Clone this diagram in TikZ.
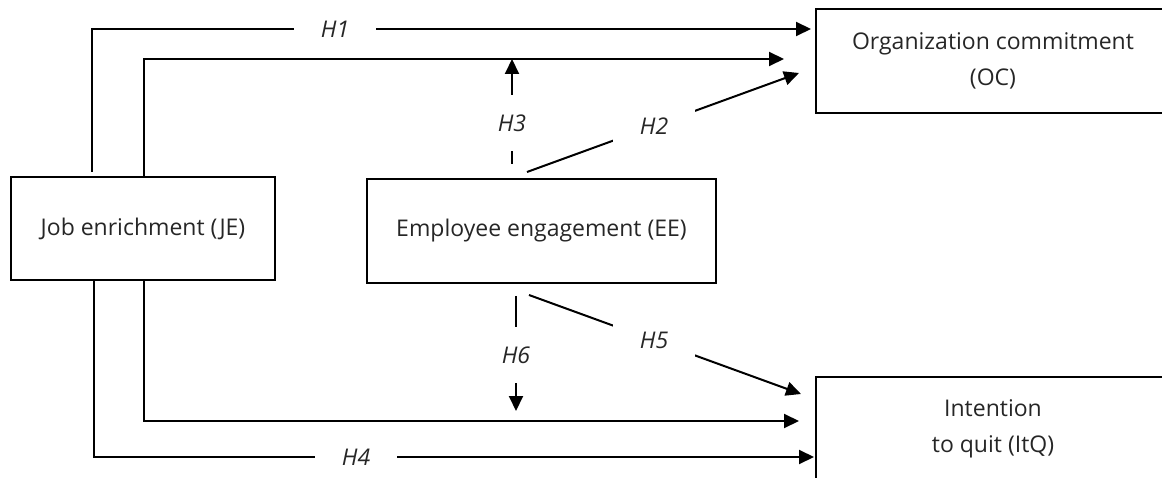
\documentclass[tikz,border=0pt]{standalone}
\usepackage{fontspec}
\setmainfont{Open Sans}
\definecolor{ink}{gray}{0.15}
\usetikzlibrary{arrows.meta}
\usetikzlibrary{positioning}
\tikzstyle{base}=[x=1pt, y=1pt, line width=2pt]
\tikzstyle{box}=[draw, black, text=ink, align=center, inner sep=0pt]
\tikzstyle{arr}=[-{Triangle[length=15pt, width=14pt]}]
\tikzstyle{lbl}=[fill=white, text=ink, font=\itshape, inner xsep=27pt, inner ysep=20pt]

\begin{document}
\begin{tikzpicture}[base]
    \fontsize{23}{36}\selectfont
        \clip (0,0) rectangle (1162,477);
        \node [box, minimum width=264pt, minimum height=103pt] (JE) at (143,248.5) {Job enrichment (JE)};
        \node [box, minimum width=349pt, minimum height=104pt] (EE) at (541.5,246) {Employee engagement (EE)};
        \node [box, minimum width=354pt, minimum height=104pt] (OC) at (993,416) {Organization commitment\\(OC)};
        \node [box, minimum width=354pt, minimum height=104pt] (ItQ) at (993,48) {Intention\\to quit (ItQ)};
        \draw [arr] ([shift={(82,4)}]JE.north west) |- node [lbl, pos=0.669] {H1} ([shift={(-4,32)}]OC.west);
        \draw [arr] ([xshift=134pt]JE.north west) |- ([shift={(-31,2)}]OC.west) coordinate (m1);
        \coordinate (h3) at ([shift={(146,14)}]EE.north west);
        \draw [arr] (h3) -- node [lbl, pos=0.39] {H3} (h3 |- m1);
        \draw [arr] ([shift={(161,6)}]EE.north west) -- node [lbl, pos=0.467] {H2} ([shift={(-16,-12)}]OC.west);
        \draw [arr] ([xshift=84pt]JE.south west) |- node [lbl, pos=0.682] {H4} ([shift={(-1,-28)}]ItQ.west);
        \draw [arr] ([xshift=134pt]JE.south west) |- ([shift={(-16,8)}]ItQ.west);
        \draw [arr] ([shift={(150,-12)}]EE.south west) -- node [lbl, pos=0.513] {H6} ([shift={(150,-127)}]EE.south west);
        \draw [arr] ([shift={(163,-11)}]EE.south west) -- node [lbl, pos=0.46] {H5} ([shift={(-14,35)}]ItQ.west);
    \end{tikzpicture}
\end{document}
